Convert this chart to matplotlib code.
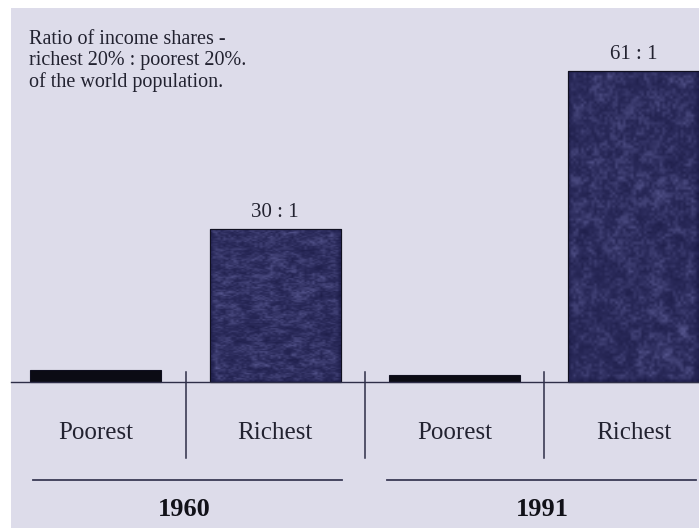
import numpy as np
import matplotlib
matplotlib.use("Agg")
import matplotlib.pyplot as plt
from matplotlib.colors import LinearSegmentedColormap
from matplotlib.patches import Rectangle

plt.rcParams['font.family'] = ['Liberation Serif', 'DejaVu Serif']

years = ["1960", "1991"]
groups = ["Poorest", "Richest"]
poorest = [2.3, 1.4]
richest = [30, 61]
ratio_labels = ["30 : 1", "61 : 1"]

bg = "#dddcea"
navy = "#26264f"

fig = plt.figure(figsize=(6.99, 5.28), dpi=100)
fig.patch.set_facecolor("white")
# lavender panel, leaving a thin white strip on the left and top
fig.patches.append(Rectangle((11 / 699, 0), 1 - 11 / 699, 1 - 8 / 528,
                             transform=fig.transFigure, facecolor=bg,
                             edgecolor="none", zorder=-10))

ax = fig.add_axes([0, 0, 1, 1])
ax.set_facecolor("none")
ax.set_xlim(-0.535, 3.363)
ax.set_ylim(-28.6, 74.9)
ax.axis("off")

x = np.arange(4)
values = [poorest[0], richest[0], poorest[1], richest[1]]
colors = ["#0b0b14", navy, "#0b0b14", navy]
bars = ax.bar(x, values, width=0.73, color=colors, edgecolor="#101020",
              linewidth=0.8, zorder=2)

# mottled fill on the tall bars
cmap = LinearSegmentedColormap.from_list("mottle", ["#1a1a44", "#2a2a5a", "#56568e"])
rng = np.random.default_rng(7)
for b in (bars[1], bars[3]):
    noise = rng.random((120, 50))
    k = np.ones(3) / 3
    for _ in range(2):
        noise = np.apply_along_axis(lambda r: np.convolve(r, k, mode="same"), 0, noise)
        noise = np.apply_along_axis(lambda r: np.convolve(r, k, mode="same"), 1, noise)
    noise = noise + 0.3 * rng.random(noise.shape)
    x0, w, h = b.get_x(), b.get_width(), b.get_height()
    im = ax.imshow(noise, cmap=cmap, extent=(x0, x0 + w, 0, h), aspect="auto",
                   interpolation="bilinear", zorder=3)
    im.set_clip_path(b)
    ax.add_patch(Rectangle((x0, 0), w, h, fill=False, edgecolor="#101020",
                           linewidth=0.8, zorder=4))

# baseline
ax.axhline(0, xmin=0.016, xmax=1, color="#2e2e48", linewidth=1.0, zorder=5)

# dividers between the columns
for xd in [0.5, 1.5, 2.5]:
    ax.plot([xd, xd], [2.0, -14.9], color="#2e2e48", linewidth=1.1, zorder=5)

# ratio labels above the richest bars
for i, lab in enumerate(ratio_labels):
    ax.annotate(lab, (x[2 * i + 1], richest[i]), xytext=(0, 12),
                textcoords="offset points", ha="center", va="center",
                fontsize=15, color="#222230")

# column names
for i in range(4):
    ax.text(x[i], -10.0, groups[i % 2], ha="center", va="center",
            fontsize=18, color="#222230")

# year underline and year
spans = [(-0.351, 1.372), (1.623, 3.346)]
for (a, b2), yr, xc in zip(spans, years, [0.49, 2.49]):
    ax.plot([a, b2], [-19.1, -19.1], color="#3a3a55", linewidth=1.3)
    ax.text(xc, -24.9, yr, ha="center", va="center", fontsize=19,
            fontweight="bold", color="#111118")

fig.text(29 / 699, 1 - 30 / 528,
         "Ratio of income shares -\nrichest 20% : poorest 20%.\nof the world population.",
         ha="left", va="top", fontsize=14.5, linespacing=1.15, color="#222230")

fig.savefig("out.png", dpi=100, facecolor=fig.get_facecolor())
